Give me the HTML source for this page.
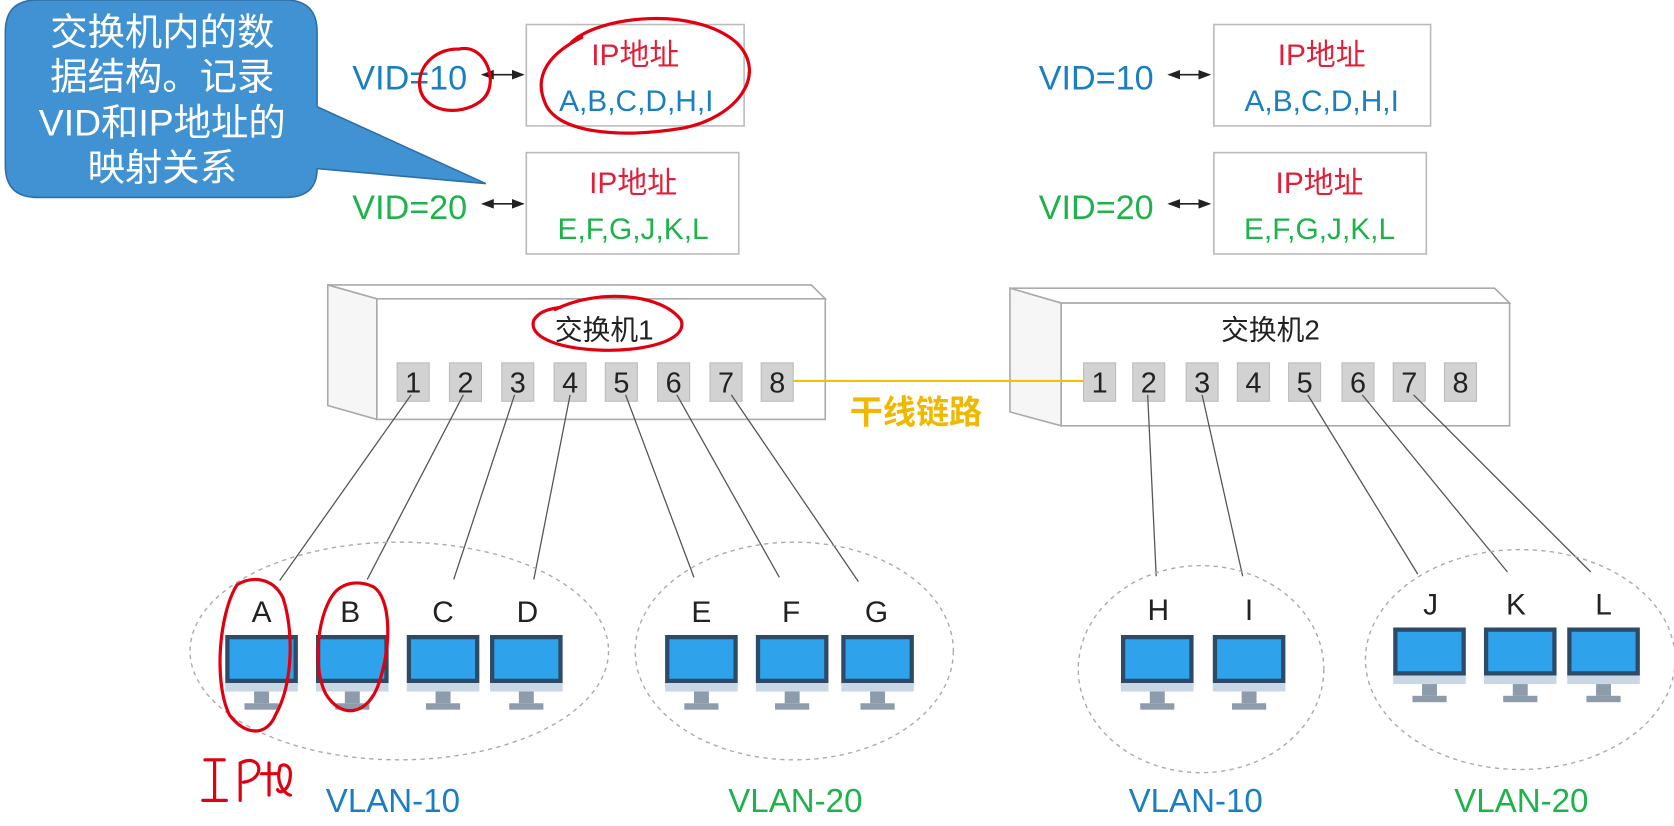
<!DOCTYPE html>
<html><head><meta charset="utf-8"><style>
html,body{margin:0;padding:0;background:#fff;}
svg{display:block}
text{font-family:"Liberation Sans","Noto Sans CJK SC",sans-serif;}
</style></head><body>
<svg width="1674" height="826" viewBox="0 0 1568 774" preserveAspectRatio="none" xmlns="http://www.w3.org/2000/svg">
<defs>
<marker id="ah" markerWidth="8" markerHeight="8" refX="7" refY="4" orient="auto-start-reverse"><path d="M0,1 L8,4 L0,7 z" fill="#222"/></marker>
<g id="mon">
<rect x="0" y="0" width="64" height="41" fill="#2ea2ea" stroke="#2d4a66" stroke-width="4"/>
<rect x="-2" y="43" width="68" height="8" fill="#c9d6e3"/>
<rect x="25" y="51" width="14" height="11" fill="#8d9bab"/>
<rect x="16" y="62" width="32" height="6" fill="#8d9bab"/>
</g>
</defs>
<rect width="1568" height="774" fill="#fff"/>

<!-- callout -->
<path d="M35,0 H267 Q297,0 297,30 V100 L455,172 L297,158 Q297,185 267,185 H35 Q5,185 5,155 V30 Q5,0 35,0 Z" fill="#4192d3" stroke="#2e6fa8" stroke-width="1.5"/>
<g fill="#fff" font-size="35" text-anchor="middle">
<text x="152" y="42">交换机内的数</text>
<text x="152" y="84">据结构。记录</text>
<text x="152" y="127">VID和IP地址的</text>
<text x="152" y="169">映射关系</text>
</g>

<!-- VID tables -->
<g font-size="32">
<text x="330" y="84" fill="#1a7fc0">VID=10</text>
<text x="330" y="205" fill="#1db34a">VID=20</text>
<text x="973" y="84" fill="#1a7fc0">VID=10</text>
<text x="973" y="205" fill="#1db34a">VID=20</text>
</g>
<g stroke="#222" stroke-width="1.5" marker-start="url(#ah)" marker-end="url(#ah)">
<line x1="452" y1="70" x2="490" y2="70"/>
<line x1="452" y1="191" x2="490" y2="191"/>
<line x1="1095" y1="70" x2="1133" y2="70"/>
<line x1="1095" y1="191" x2="1133" y2="191"/>
</g>
<g fill="none" stroke="#bbb" stroke-width="1.5">
<rect x="493" y="23" width="204" height="95"/>
<rect x="493" y="143" width="199" height="95"/>
<rect x="1137" y="23" width="203" height="95"/>
<rect x="1137" y="143" width="199" height="95"/>
</g>
<g font-size="28" text-anchor="middle">
<text x="595" y="61" fill="#e0203a">IP地址</text>
<text x="596" y="104" fill="#1a7fc0">A,B,C,D,H,I</text>
<text x="593" y="181" fill="#e0203a">IP地址</text>
<text x="593" y="224" fill="#1db34a">E,F,G,J,K,L</text>
<text x="1238" y="61" fill="#e0203a">IP地址</text>
<text x="1238" y="104" fill="#1a7fc0">A,B,C,D,H,I</text>
<text x="1236" y="181" fill="#e0203a">IP地址</text>
<text x="1236" y="224" fill="#1db34a">E,F,G,J,K,L</text>
</g>

<!-- switches -->
<g stroke="#aaa" stroke-width="1.5" fill="#fff">
<path d="M307,267 L760,267 L773,280 L353,280 Z"/>
<path d="M307,267 L353,280 L353,393 L307,380 Z" fill="#f6f6f6"/>
<rect x="353" y="280" width="420" height="113"/>
<path d="M946,270 L1400,270 L1414,284 L994,284 Z"/>
<path d="M946,270 L994,284 L994,399 L946,386 Z" fill="#f6f6f6"/>
<rect x="994" y="284" width="420" height="115"/>
</g>
<text x="566" y="318" font-size="26" text-anchor="middle" fill="#222">交换机1</text>
<text x="1190" y="318" font-size="26" text-anchor="middle" fill="#222">交换机2</text>

<!-- trunk -->
<line x1="742" y1="357" x2="1015" y2="357" stroke="#f5c000" stroke-width="2"/>
<text x="796" y="397" font-size="31" fill="#f0b800" font-weight="bold">干线链路</text>

<g fill="#d2d2d2" stroke="#bbb" stroke-width="1">
<rect x="372" y="340" width="30" height="36"/><rect x="421" y="340" width="30" height="36"/>
<rect x="470" y="340" width="30" height="36"/><rect x="519" y="340" width="30" height="36"/>
<rect x="567" y="340" width="30" height="36"/><rect x="616" y="340" width="30" height="36"/>
<rect x="665" y="340" width="30" height="36"/><rect x="713" y="340" width="30" height="36"/>
<rect x="1015" y="340" width="30" height="36"/><rect x="1061" y="340" width="30" height="36"/>
<rect x="1111" y="340" width="30" height="36"/><rect x="1159" y="340" width="30" height="36"/>
<rect x="1207" y="340" width="30" height="36"/><rect x="1257" y="340" width="30" height="36"/>
<rect x="1305" y="340" width="30" height="36"/><rect x="1353" y="340" width="30" height="36"/>
</g>
<g font-size="27" text-anchor="middle" fill="#222">
<text x="387" y="368">1</text><text x="436" y="368">2</text><text x="485" y="368">3</text><text x="534" y="368">4</text>
<text x="582" y="368">5</text><text x="631" y="368">6</text><text x="680" y="368">7</text><text x="728" y="368">8</text>
<text x="1030" y="368">1</text><text x="1076" y="368">2</text><text x="1126" y="368">3</text><text x="1174" y="368">4</text>
<text x="1222" y="368">5</text><text x="1272" y="368">6</text><text x="1320" y="368">7</text><text x="1368" y="368">8</text>
</g>

<!-- links -->
<g stroke="#555" stroke-width="1.2">
<line x1="385" y1="370" x2="262" y2="544"/>
<line x1="434" y1="370" x2="344" y2="543"/>
<line x1="482" y1="370" x2="425" y2="543"/>
<line x1="534" y1="370" x2="500" y2="543"/>
<line x1="586" y1="370" x2="650" y2="541"/>
<line x1="634" y1="370" x2="730" y2="541"/>
<line x1="685" y1="370" x2="804" y2="545"/>
<line x1="1075" y1="370" x2="1083" y2="540"/>
<line x1="1126" y1="370" x2="1164" y2="540"/>
<line x1="1225" y1="370" x2="1328" y2="538"/>
<line x1="1276" y1="370" x2="1412" y2="536"/>
<line x1="1324" y1="370" x2="1490" y2="536"/>
</g>

<!-- vlan ellipses -->
<g fill="none" stroke="#aaa" stroke-width="1.3" stroke-dasharray="4,4">
<ellipse cx="374" cy="610" rx="196" ry="102"/>
<ellipse cx="744" cy="610" rx="149" ry="102"/>
<ellipse cx="1125" cy="627" rx="115" ry="97"/>
<ellipse cx="1424" cy="618" rx="145" ry="103"/>
</g>

<g font-size="28" text-anchor="middle" fill="#222">
<text x="245" y="583">A</text><text x="328" y="583">B</text><text x="415" y="583">C</text><text x="494" y="583">D</text>
<text x="657" y="583">E</text><text x="741" y="583">F</text><text x="821" y="583">G</text>
<text x="1085" y="581">H</text><text x="1170" y="581">I</text>
<text x="1340" y="576">J</text><text x="1420" y="576">K</text><text x="1502" y="576">L</text>
</g>
<use href="#mon" x="213" y="597"/><use href="#mon" x="298" y="597"/><use href="#mon" x="383" y="597"/><use href="#mon" x="461" y="597"/>
<use href="#mon" x="625" y="597"/><use href="#mon" x="710" y="597"/><use href="#mon" x="790" y="597"/>
<use href="#mon" x="1052" y="597"/><use href="#mon" x="1138" y="597"/>
<use href="#mon" x="1307" y="590"/><use href="#mon" x="1392" y="590"/><use href="#mon" x="1470" y="590"/>

<g font-size="31" text-anchor="middle">
<text x="368" y="761" fill="#1a7fc0">VLAN-10</text>
<text x="745" y="761" fill="#1db34a">VLAN-20</text>
<text x="1120" y="761" fill="#1a7fc0">VLAN-10</text>
<text x="1425" y="761" fill="#1db34a">VLAN-20</text>
</g>

<!-- red annotations -->
<g fill="none" stroke="#e00010" stroke-width="3" stroke-linecap="round">
<path d="M430,46 C455,40 470,80 450,95 C430,110 395,105 393,80 C392,60 410,45 430,46"/>
<path d="M535,40 C560,15 650,5 690,40 C720,70 690,110 640,120 C580,130 520,125 510,95 C500,70 515,50 545,35"/>
<path d="M520,290 C560,270 620,275 638,300 C645,320 600,330 560,328 C520,326 495,315 500,300 C505,292 512,290 525,288"/>
<path d="M222,548 C205,575 200,640 215,670 C230,690 250,690 258,670 C275,640 275,590 265,560 C255,540 235,540 222,548"/>
<path d="M320,550 C300,560 290,620 305,650 C320,675 345,670 355,640 C368,600 365,560 350,550 C340,545 328,545 320,550"/>
<path d="M192,712 H210 M201,712 V750 M190,750 H212"/>
<path d="M225,750 V715 C245,705 250,730 228,733"/>
<path d="M245,725 H260 M252,715 V745 M262,720 C262,715 272,715 272,725 C272,740 262,745 260,740 M262,720 C258,735 268,745 272,745"/>
</g>
</svg>
</body></html>
